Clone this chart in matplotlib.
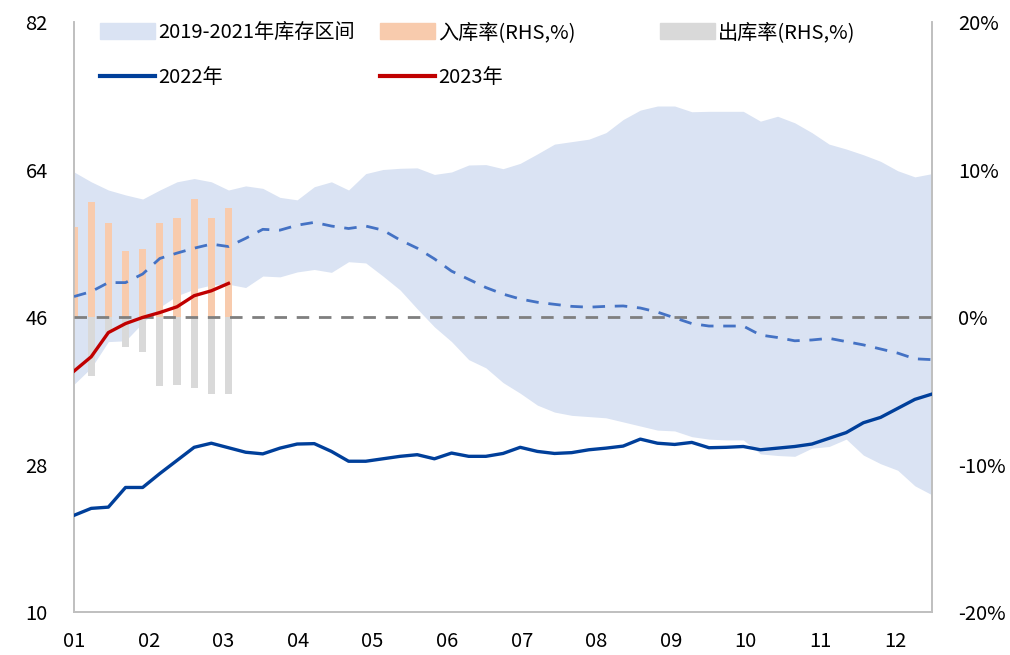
import numpy as np
import matplotlib
matplotlib.use('Agg')
import matplotlib.pyplot as plt
from matplotlib.patches import Patch
from matplotlib.lines import Line2D

plt.rcParams['font.family'] = ['Noto Sans CJK SC', 'DejaVu Sans']

# weekly points, 01 .. 12
month_labels = ['01', '02', '03', '04', '05', '06', '07', '08', '09', '10', '11', '12']

band_upper = [63.7, 62.5, 61.5, 60.9, 60.4, 61.5, 62.5, 62.9, 62.5, 61.5,
              62.0, 61.7, 60.6, 60.3, 61.9, 62.5, 61.5, 63.5, 64.0, 64.15,
              64.2, 63.4, 63.7, 64.55, 64.6, 64.1, 64.75, 65.9, 67.1, 67.4,
              67.7, 68.5, 70.1, 71.25, 71.75, 71.75, 71.05, 71.1, 71.1, 71.1,
              69.9, 70.5, 69.7, 68.5, 67.1, 66.5, 65.8, 65.0, 63.85, 63.1, 63.5]

band_lower = [37.8, 39.8, 43.0, 43.1, 45.3, 47.2, 48.6, 49.4, 49.9, 50.0,
              49.6, 51.0, 50.9, 51.5, 51.8, 51.45, 52.75, 52.6, 51.0, 49.3,
              47.0, 44.8, 43.0, 40.8, 39.8, 38.0, 36.7, 35.25, 34.4, 34.0,
              33.85, 33.7, 33.2, 32.7, 32.2, 32.1, 31.4, 31.1, 31.0, 31.0,
              29.3, 29.1, 29.0, 30.0, 30.2, 31.1, 29.15, 28.1, 27.3, 25.4, 24.3]

band_mid = [48.5, 49.1, 50.2, 50.2, 51.25, 53.15, 53.8, 54.4, 54.9, 54.6,
            55.6, 56.7, 56.6, 57.2, 57.55, 57.1, 56.8, 57.1, 56.6, 55.4,
            54.4, 53.1, 51.6, 50.6, 49.6, 48.8, 48.2, 47.8, 47.55, 47.3,
            47.2, 47.3, 47.35, 47.1, 46.6, 45.9, 45.2, 44.9, 44.9, 44.9,
            43.8, 43.5, 43.1, 43.2, 43.4, 43.0, 42.6, 42.1, 41.6, 40.9, 40.8]

stock_2022 = [21.8, 22.65, 22.8, 25.2, 25.2, 26.9, 28.5, 30.1, 30.6, 30.05,
              29.5, 29.3, 30.0, 30.5, 30.55, 29.6, 28.4, 28.4, 28.7, 29.0,
              29.2, 28.7, 29.4, 29.0, 29.0, 29.35, 30.1, 29.6, 29.35, 29.45,
              29.8, 30.0, 30.25, 31.1, 30.6, 30.45, 30.7, 30.05, 30.1, 30.2,
              29.8, 30.0, 30.2, 30.5, 31.2, 31.9, 33.1, 33.75, 34.85, 35.95, 36.6]

stock_2023 = [39.4, 41.15, 44.1, 45.2, 45.95, 46.55, 47.25, 48.6, 49.2, 50.1]

inflow_rate = [6.1, 7.8, 6.4, 4.5, 4.6, 6.35, 6.7, 8.0, 6.7, 7.4]
outflow_rate = [0.0, -4.0, -1.1, -2.0, -2.4, -4.65, -4.6, -4.8, -5.2, -5.25]

weeks = np.arange(len(band_upper))
weeks_2023 = np.arange(len(stock_2023))
month_pos = np.arange(12) * 52.2 / 12


def main():

    fig = plt.figure(figsize=(10.1, 6.55), dpi=100)
    rect = [0.0733, 0.0656, 0.8495, 0.9008]

    ax = fig.add_axes(rect)
    ax.set_facecolor('white')
    ax.fill_between(weeks, band_lower, band_upper, color='#dae3f3', linewidth=0)
    ax.set_xlim(0, 50)
    ax.set_ylim(10, 82)
    ax.set_yticks([10, 28, 46, 64, 82])
    ax.set_xticks(month_pos)
    ax.set_xticklabels(month_labels)

    ax2 = ax.twinx()
    ax2.bar(weeks_2023, inflow_rate, width=0.42, color='#f8cbad', zorder=2)
    ax2.bar(weeks_2023, outflow_rate, width=0.42, color='#d9d9d9', zorder=2)
    ax2.axhline(0, color='#7f7f7f', lw=2, dashes=(4.5, 3.5), zorder=3)
    ax2.set_ylim(-20, 20)
    ax2.set_yticks([-20, -10, 0, 10, 20])
    ax2.set_yticklabels(['-20%', '-10%', '0%', '10%', '20%'])

    ax3 = fig.add_axes(rect, sharex=ax, sharey=ax)
    ax3.set_facecolor('none')
    ax3.plot(weeks, band_mid, color='#4472c4', lw=2, dashes=(4.5, 3.5))
    ax3.plot(weeks, stock_2022, color='#003f9a', lw=2.4)
    ax3.plot(weeks_2023, stock_2023, color='#c00000', lw=2.4)
    ax3.axis('off')

    for a in (ax, ax2):
        for s in a.spines.values():
            s.set_color('#bfbfbf')
            s.set_linewidth(1.2)
        a.spines['top'].set_visible(False)
        a.tick_params(length=0, labelsize=14.5, colors='black')
    ax.tick_params(axis='y', pad=19)
    ax.tick_params(axis='x', pad=14)
    ax2.tick_params(axis='y', pad=19)

    leg_kw = dict(frameon=False, fontsize=14.5, loc='upper left',
                  handlelength=2.75, handleheight=0.8, handletextpad=0.15,
                  labelspacing=1.2, borderaxespad=0, borderpad=0)
    col1 = [Patch(color='#dae3f3', label='2019-2021年库存区间'),
            Line2D([], [], color='#003f9a', lw=3, label='2022年')]
    col2 = [Patch(color='#f8cbad', label='入库率(RHS,%)'),
            Line2D([], [], color='#c00000', lw=3, label='2023年')]
    col3 = [Patch(color='#d9d9d9', label='出库率(RHS,%)')]
    for handles, x in [(col1, 100), (col2, 380), (col3, 660)]:
        fig.legend(handles=handles, bbox_to_anchor=(x / 1010, 1 - 22 / 655), **leg_kw)

    fig.savefig('out.png', dpi=100)


if __name__ == '__main__':
    main()
